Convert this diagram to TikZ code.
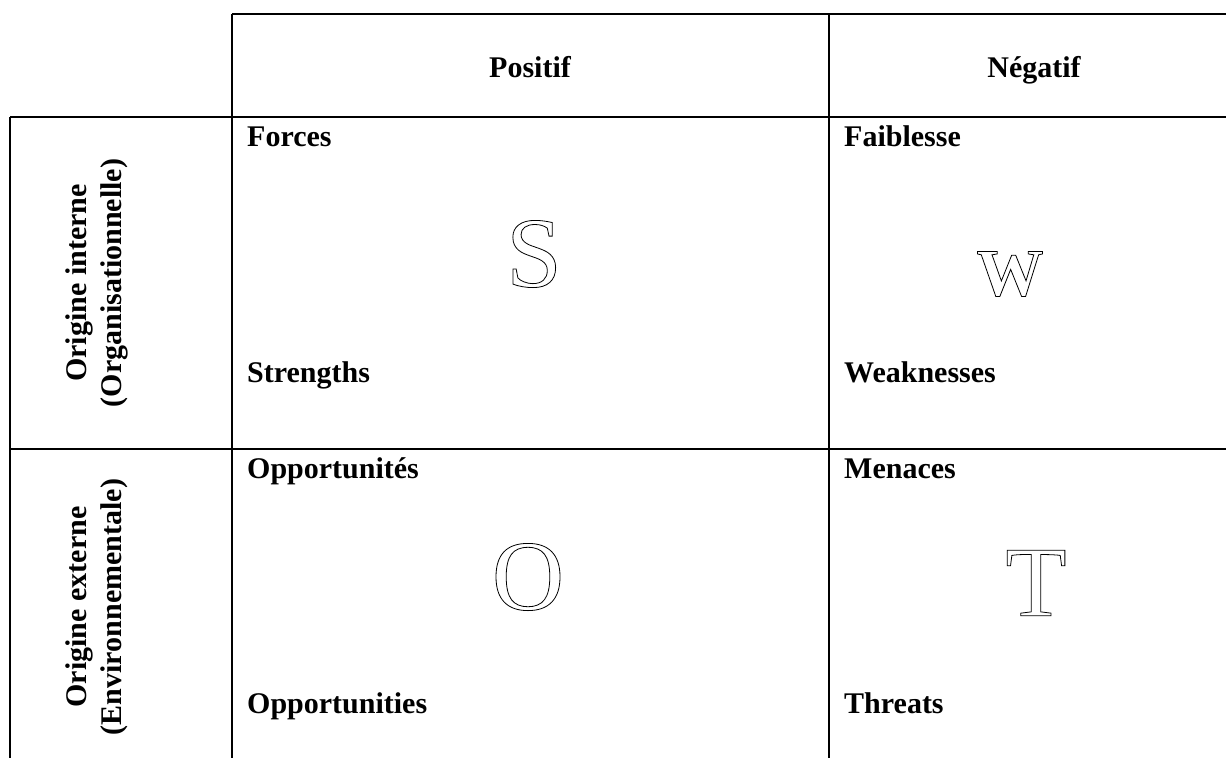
\documentclass[tikz,border=0pt]{standalone}
\usepackage{fontspec}
\setmainfont{Liberation Serif}
\newcommand\outlinedglyph[1]{\special{pdf:literal direct 1 Tr 0.8 w}#1\special{pdf:literal direct 0 Tr}}
\begin{document}
\begin{tikzpicture}[x=1pt,y=-1pt,
  grid/.style={line width=1.3pt, black},
  lbl/.style={font=\fontsize{30}{35}\selectfont\bfseries, inner sep=0pt, anchor=base west},
  head/.style={font=\fontsize{30}{35}\selectfont\bfseries, inner sep=0pt, anchor=base},
  side/.style={font=\fontsize{30}{35}\selectfont\bfseries, inner sep=0pt, rotate=90, align=center},
  big/.style={font=\fontsize{100}{110}\selectfont, inner sep=0pt, anchor=center},
  bigb/.style={font=\fontsize{67}{75}\selectfont\bfseries, inner sep=0pt, anchor=center}]
\useasboundingbox (0,0) rectangle (1226,758);
% grid coordinates
\coordinate (tl) at (232,14);
\coordinate (tr) at (1226,14);
\coordinate (tm) at (829,14);
\coordinate (r1l) at (10,117);
\coordinate (r1r) at (1226,117);
\coordinate (r2l) at (10,449);
\coordinate (r2r) at (1226,449);
\coordinate (bl) at (10,758);
\coordinate (bm1) at (232,758);
\coordinate (bm2) at (829,758);
\draw[grid] (tl) -- (tr);
\draw[grid] (r1l) -- (r1r);
\draw[grid] (r2l) -- (r2r);
\draw[grid] (r1l) -- (bl);
\draw[grid] (tl) -- (bm1);
\draw[grid] (tm) -- (bm2);
% headers
\node[head] (pos) at (530,77) {Positif};
\node[head] (neg) at (1034,77) {Négatif};
% side labels
\node[side] (int) at (97,283) {Origine interne\\(Organisationnelle)};
\node[side] (ext) at (97,607) {Origine externe\\(Environnementale)};
% cell labels
\node[lbl] (forces) at (247,146) {Forces};
\node[lbl] (faib) at (844,146) {Faiblesse};
\node[lbl] (str) at (247,382) {Strengths};
\node[lbl] (weak) at (844,382) {Weaknesses};
\node[lbl] (opp) at (247,478) {Opportunités};
\node[lbl] (men) at (844,478) {Menaces};
\node[lbl] (opps) at (247,713) {Opportunities};
\node[lbl] (thr) at (844,713) {Threats};
% big letters
\node[big] (S) at (534,254) {\outlinedglyph{S}};
\node[bigb] (W) at (1010,274) {\outlinedglyph{W}};
\node[big] (O) at (528,577) {\outlinedglyph{O}};
\node[big] (T) at (1036,583) {\outlinedglyph{T}};
\end{tikzpicture}
\end{document}
